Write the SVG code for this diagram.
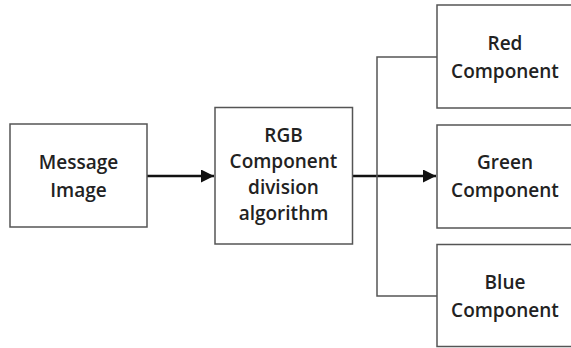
<svg xmlns="http://www.w3.org/2000/svg" width="571" height="348" viewBox="0 0 571 348">
<style>
.box{fill:#fff;stroke:#555;stroke-width:1.5}
.t{font-family:"Open Sans","Noto Sans",sans-serif;font-size:19px;font-weight:600;fill:#222;text-anchor:middle}
.ln{fill:none;stroke:#555;stroke-width:1.5}
.ar{fill:none;stroke:#111;stroke-width:2.5}
</style>
<defs>
<marker id="ah" markerWidth="13" markerHeight="13" refX="13" refY="6.5" orient="auto" markerUnits="userSpaceOnUse">
<path d="M0,0 L13,6.5 L0,13 Z" fill="#111"/>
</marker>
</defs>
<rect width="571" height="348" fill="#fff"/>
<g id="connectors">
<line class="ar" x1="147" y1="176" x2="214" y2="176" marker-end="url(#ah)"/>
<line class="ar" x1="352" y1="176" x2="436" y2="176" marker-end="url(#ah)"/>
<polyline class="ln" points="437,57 377,57 377,296 437,296"/>
</g>
<g id="message">
<rect class="box" x="10" y="124" width="137" height="103"/>
<text class="t" x="78.5" y="169">Message</text>
<text class="t" x="78.5" y="197">Image</text>
</g>
<g id="rgb">
<rect class="box" x="215" y="107.5" width="137.5" height="136.5"/>
<text class="t" x="283.5" y="142">RGB</text>
<text class="t" x="283.5" y="168">Component</text>
<text class="t" x="283.5" y="194">division</text>
<text class="t" x="283.5" y="220">algorithm</text>
</g>
<g id="red">
<rect class="box" x="437" y="5" width="140" height="103"/>
<text class="t" x="505" y="50">Red</text>
<text class="t" x="505" y="78">Component</text>
</g>
<g id="green">
<rect class="box" x="437" y="125" width="140" height="103"/>
<text class="t" x="505" y="169">Green</text>
<text class="t" x="505" y="197">Component</text>
</g>
<g id="blue">
<rect class="box" x="437" y="244.5" width="140" height="102"/>
<text class="t" x="505" y="289">Blue</text>
<text class="t" x="505" y="317">Component</text>
</g>
</svg>
